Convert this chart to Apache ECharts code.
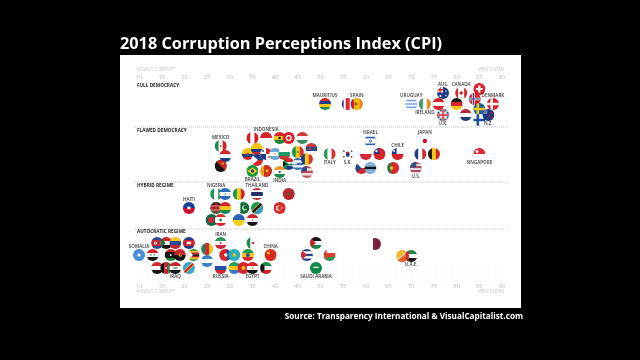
<!DOCTYPE html>
<html>
<head>
<meta charset="utf-8">
<style>html,body{margin:0;background:#000}#chart{width:640px;height:360px}</style>
<script src="https://cdn.jsdelivr.net/npm/echarts@6/dist/echarts.min.js"></script>
</head>
<body>
<div id="chart"></div>
<script>
// score = CPI, lane = vertical slot inside the swarm (0 at top)
var fullNames = ["Mauritius","Costa Rica","Spain","Uruguay","Ireland","Austria","Australia","UK","Germany","Canada","Netherlands","Norway","Switzerland","Sweden","Finland","NZ","Denmark"];
var fullScores = [51,56,58,70,73,76,77,77,80,81,82,84,85,85,85,87,88];
var fullLanes = [22,22,22,22,22,22,11,33,22,11,33,17,7,27,38,33,22];

var flawedNames = ["Mexico","Paraguay","PNG","Ecuador","Peru","Brazil","Colombia","Philippines","Indonesia","Panama","Sri Lanka","Argentina","Ghana","India","Bulgaria","Tunisia","South Africa","Senegal","Greece","Hungary","Romania","Malaysia","Serbia","Italy","S Korea","Czechia","Poland","Israel","Botswana","Taiwan","Portugal","Chile","US","France","Japan","Belgium","Singapore"];
var flawedScores = [28,29,28,34,35,35,36,36,38,38,38,40,41,41,42,43,43,45,45,46,47,47,48,52,56,59,60,61,61,63,66,67,71,72,73,75,85];
var flawedLanes = [64,74,84,72,56,89,67,78,56,72,89,72,56,90,72,56,82,70,82,56,77,90,67,72,72,86,72,59,86,72,86,72,86,72,59,72,72];

var hybridNames = ["Haiti","Bangladesh","Nigeria","Kenya","Lebanon","Honduras","Bolivia","Mali","Ukraine","Pakistan","Sierra","Thailand","Tanzania","Turkey","Morocco"];
var hybridScores = [21,26,27,27,28,29,29,32,32,33,35,36,36,41,43];
var hybridLanes = [126,138,112,126,138,112,126,112,138,126,138,112,126,126,112];

var autoNames = ["Somalia","Syria","N Korea","Yemen","Sudan","Afghanistan","Libya","Venezuela","Iraq","Angola","Cambodia","DRC","Zimbabwe","Cameroon","Nicaragua","Iran","Russia","Laos","Kazakhstan","Gabon","Vietnam","Ethiopia","Algeria","Egypt","Kuwait","China","Cuba","Jordan","Saudi Arabia","Oman","Qatar","Bhutan","UAE"];
var autoScores = [10,13,14,14,16,16,17,18,18,19,21,21,22,25,25,28,28,29,31,31,33,34,35,35,38,39,47,49,49,52,62,68,70];
var autoLanes = [173,173,161,186,161,186,173,161,186,173,161,186,173,167,179,161,186,173,173,186,186,173,161,186,186,173,173,161,186,173,162,174,174];

var regimeNames = ["FULL DEMOCRACY","FLAWED DEMOCRACY","HYBRID REGIME","AUTOCRATIC REGIME"];
var regimeLanes = [4,49,104,150];
var separatorLanes = [45,100,147];
var axisTicks = [10,15,20,25,30,35,40,45,50,55,60,65,70,75,80,85,90];

// printed country labels, and whether they sit above or below the flag
var labelsAbove = {Mauritius:"MAURITIUS",Spain:"SPAIN",Uruguay:"URUGUAY",Australia:"AUS.",Canada:"CANADA",Denmark:"DENMARK",Mexico:"MEXICO",Indonesia:"INDONESIA",Israel:"ISRAEL",Chile:"CHILE",Japan:"JAPAN",Nigeria:"NIGERIA",Thailand:"THAILAND",Haiti:"HAITI",Iran:"IRAN",Somalia:"SOMALIA",China:"CHINA"};
var labelsBelow = {Ireland:"IRELAND",UK:"U.K.",NZ:"N.Z.",Brazil:"BRAZIL",India:"INDIA",Italy:"ITALY","S Korea":"S.K.",US:"U.S.",Singapore:"SINGAPORE",Iraq:"IRAQ",Russia:"RUSSIA",Egypt:"EGYPT","Saudi Arabia":"SAUDI ARABIA",UAE:"U.A.E."};

var R = 6;
var navy = "#1f3c88", red = "#d8232a", green = "#1a8f4c", gold = "#f7c518", sky = "#6aa9dd", blk = "#151515", wht = "#fff";

// flag drawings: h / v = equal stripes, m = marks [kind, colour, ...]
var nordic = function (bg, c1, c2) {
    var m = [["bar", c1, -2.8, -6, 2.6, 12], ["bar", c1, -6, -1.3, 12, 2.6]];
    if (c2) m.push(["bar", c2, -2.1, -6, 1.2, 12], ["bar", c2, -6, -0.6, 12, 1.2]);
    return {h: [bg], m: m};
};
var jack = [["line", wht, -6, -6, 6, 6, 1.6], ["line", wht, -6, 6, 6, -6, 1.6], ["bar", wht, -1.4, -6, 2.8, 12], ["bar", wht, -6, -1.4, 12, 2.8], ["bar", red, -0.7, -6, 1.4, 12], ["bar", red, -6, -0.7, 12, 1.4]];
var flagStyles = {
    "Mauritius": {h: [red, navy, gold, green]},
    "Costa Rica": {v: [navy, wht, red, red, wht, navy]},
    "Spain": {v: ["#c8102e", "#f5b70f", "#f5b70f", "#e8891a"], m: [["dot", "#b5401c", -1, 0, 1.5]]},
    "Uruguay": {h: [wht, "#7aa3d8", wht, "#7aa3d8", wht, "#7aa3d8", wht]},
    "Ireland": {v: ["#3c9a5f", "#fff", "#f08a2c"]},
    "Austria": {h: [red, wht, red]},
    "Australia": {h: [navy], m: [["bar", wht, -6, -6, 6, 5.6], ["bar", red, -6, -4, 6, 1.4], ["bar", red, -3.6, -6, 1.4, 6], ["dot", wht, 2.8, -2, 0.7], ["dot", wht, 3, 2.4, 0.7], ["dot", wht, -2.6, 3, 1]]},
    "UK": {h: ["#2a3f7e"], m: jack},
    "Germany": {h: [blk, red, gold]},
    "Canada": {v: [red, wht, wht, red], m: [["dot", red, 0, 0, 1.8]]},
    "Netherlands": {h: ["#b5283a", wht, "#1f3c7a"]},
    "Norway": nordic(red, wht, navy),
    "Switzerland": {h: [red], m: [["bar", wht, -1.1, -3.4, 2.2, 6.8], ["bar", wht, -3.4, -1.1, 6.8, 2.2]]},
    "Sweden": nordic("#1560a8", gold),
    "Finland": nordic(wht, "#1c4f9c"),
    "NZ": {h: ["#1b3a7a"], m: [["dot", red, 2.6, -2.4, 0.9], ["dot", red, 1.2, 1, 0.9], ["dot", red, 3.6, 2.6, 0.9], ["bar", "#6a7db0", -6, -6, 5, 5]]},
    "Denmark": {h: [red], m: [["bar", wht, -2.4, -6, 2.4, 12], ["bar", wht, -6, -1.2, 12, 2.4]]},
    "Mexico": {v: [green, wht, red], m: [["dot", "#9a7b3c", 0, 0, 1]]},
    "Paraguay": {h: [red, wht, navy]},
    "PNG": {h: [blk], m: [["poly", "#c9241f", [[-6, -6], [6, -6], [6, 6]]], ["dot", gold, 2, -2.4, 1.1]]},
    "Ecuador": {h: [gold, gold, navy, red], m: [["dot", "#7a5a32", 0, 0, 1.5]]},
    "Peru": {v: ["#d01c1f", wht, "#d01c1f"]},
    "Brazil": {h: ["#169b3a"], m: [["poly", gold, [[-5, 0], [0, -3.6], [5, 0], [0, 3.6]]], ["dot", navy, 0, 0, 1.7]]},
    "Colombia": {h: [gold, gold, navy, red]},
    "Philippines": {h: [navy, red], m: [["poly", wht, [[-6, -6], [1, 0], [-6, 6]]]]},
    "Indonesia": {h: [red, wht]},
    "Panama": {h: [wht], m: [["bar", red, 0, -6, 6, 6], ["bar", navy, -6, 0, 6, 6], ["dot", navy, -3, -3, 0.9], ["dot", red, 3, 3, 0.9]]},
    "Sri Lanka": {v: ["#f0a21f", "#c8301f", "#c8301f"], m: [["dot", gold, 1, 0, 1.4]]},
    "Argentina": {h: [sky, wht, sky], m: [["dot", gold, 0, 0, 1]]},
    "Ghana": {h: [red, gold, "#1a8a46"], m: [["dot", blk, 0, 0, 1.2]]},
    "India": {h: ["#f59a33", wht, "#1a8a46"], m: [["dot", navy, 0, 0, 1.1]]},
    "Bulgaria": {h: [wht, "#1a9a6a", "#cf3a2a"]},
    "Tunisia": {h: ["#d8232a"], m: [["dot", wht, 0, 0, 3], ["dot", red, 0, 0, 1.7]]},
    "South Africa": {h: [red, wht, navy], m: [["poly", "#178a4c", [[-6, -6], [0, 0], [6, -1.3], [6, 1.3], [0, 1.4], [-6, 6]]], ["poly", blk, [[-6, -3], [-2, 0], [-6, 3]]]]},
    "Senegal": {v: ["#1a9a4c", gold, "#d8332a"], m: [["dot", "#1a8f4c", 0, 0, 0.9]]},
    "Greece": {h: ["#2f6fb5", wht, "#2f6fb5", wht, "#2f6fb5"], m: [["bar", wht, -6, -1, 5, 1.2]]},
    "Hungary": {h: ["#cf3b36", wht, "#3d8d5c"]},
    "Romania": {v: ["#1f3c88", gold, "#d8332a"]},
    "Malaysia": {h: ["#c8505a", "#e8dfe0", "#c8505a", "#e8dfe0", "#c8505a"], m: [["bar", "#2f4a88", -6, -6, 6, 5.6]]},
    "Serbia": {h: ["#c6363c", "#2f4a88", "#f3f3f3"], m: [["dot", "#b5403f", -1.5, 0, 1.2]]},
    "Italy": {v: ["#2e9a5a", wht, "#d8332a"]},
    "S Korea": {h: [wht], m: [["dot", "#c8283c", 0, -0.7, 1.9], ["dot", "#1f3c88", 0, 0.9, 1.9], ["bar", blk, -4.6, -3.6, 1.4, 1.4], ["bar", blk, 3.2, -3.6, 1.4, 1.4], ["bar", blk, -4.6, 2.2, 1.4, 1.4], ["bar", blk, 3.2, 2.2, 1.4, 1.4]]},
    "Czechia": {h: [wht, "#d8232a"], m: [["poly", "#1f4a8a", [[-6, -6], [0, 0], [-6, 6]]]]},
    "Poland": {h: [wht, "#d8283a"]},
    "Israel": {h: [wht, "#2a62b0", wht, wht, wht, "#2a62b0", wht], m: [["dot", "#2a62b0", 0, 0, 1.5], ["dot", wht, 0, 0, 0.8]]},
    "Botswana": {h: ["#79aedb", "#79aedb", blk, "#79aedb", "#79aedb"]},
    "Taiwan": {h: ["#d8232a"], m: [["bar", "#1f3c88", -6, -6, 5.6, 6], ["dot", wht, -3, -3, 1.2]]},
    "Portugal": {v: ["#1f7a3c", "#d8232a", "#d8232a"], m: [["dot", gold, -1.5, 0, 1.7]]},
    "Chile": {h: [wht, "#d8232a"], m: [["bar", "#1f3c88", -6, -6, 5, 6], ["dot", wht, -3.4, -3, 0.9]]},
    "US": {h: ["#b84a5a", "#ddd", "#b84a5a", "#ddd", "#b84a5a", "#ddd"], m: [["bar", "#37508f", -6, -6, 6.4, 5.6]]},
    "France": {v: ["#1f3c88", wht, "#d8232a"]},
    "Japan": {h: [wht], m: [["dot", "#c8102e", 0, 0, 2.2]]},
    "Belgium": {v: [blk, "#f5c518", "#d8232a"]},
    "Singapore": {h: ["#dd2a35", wht], m: [["dot", wht, -2.4, -2.6, 1.5]]},
    "Haiti": {h: ["#1a3f9a", "#c8102e"], m: [["bar", wht, -1.6, -1.2, 3.2, 2.4]]},
    "Bangladesh": {h: ["#0f6b47"], m: [["dot", "#d0283a", -0.6, 0, 3]]},
    "Nigeria": {v: ["#1a9a5c", wht, "#1a9a5c"]},
    "Kenya": {h: [blk, "#a8262a", "#a8262a", "#1a7a3c"], m: [["poly", "#a8262a", [[-1.6, -5], [1.6, -5], [1.6, 5], [-1.6, 5]]], ["bar", wht, -6, -2.3, 12, 0.5], ["bar", wht, -6, 1.8, 12, 0.5]]},
    "Lebanon": {h: ["#d8232a", wht, wht, "#d8232a"], m: [["dot", "#1a8a4c", 0, 0, 1.4]]},
    "Honduras": {h: ["#2a6ac0", wht, "#2a6ac0"], m: [["dot", "#2a6ac0", 0, 0, 0.8]]},
    "Bolivia": {h: ["#d8232a", gold, "#1a8a4c"]},
    "Mali": {v: ["#1a9a4c", "#f0d020", "#d8232a"]},
    "Ukraine": {h: ["#2a62b8", "#f5d21a"]},
    "Pakistan": {v: [wht, "#0d6b35", "#0d6b35", "#0d6b35"], m: [["dot", wht, 1.2, 0, 2.4], ["dot", "#0d6b35", 2, -0.4, 2]]},
    "Sierra": {h: ["#c8232a", wht, blk], m: [["dot", "#1a8a4c", 0, 0, 0.8]]},
    "Thailand": {h: ["#c8282e", wht, "#23306f", "#23306f", wht, "#c8282e"]},
    "Tanzania": {h: ["#1a9a4c"], m: [["poly", "#2aa0d0", [[6, -6], [6, 6], [-6, 6]]], ["line", gold, -6, 6, 6, -6, 3.6], ["line", blk, -6, 6, 6, -6, 2.4]]},
    "Turkey": {h: ["#dd2a2a"], m: [["dot", wht, -1, 0, 2.6], ["dot", "#dd2a2a", -0.2, 0, 2.1], ["dot", wht, 2.2, 0, 0.7]]},
    "Morocco": {h: ["#b5272a"], m: [["dot", "#2a6a3c", 0, 0, 1.2]]},
    "Somalia": {h: ["#4a90d8"], m: [["dot", wht, 0, 0, 1.5]]},
    "Syria": {h: ["#d8232a", wht, blk], m: [["dot", "#1a8a4c", -1.6, 0, 0.8], ["dot", "#1a8a4c", 1.6, 0, 0.8]]},
    "N Korea": {h: ["#2a4a9a", "#c8283c", "#c8283c", "#2a4a9a"], m: [["dot", wht, -1.6, 0, 1.5], ["dot", "#c8283c", -1.6, 0, 0.7]]},
    "Yemen": {h: ["#d8232a", wht, blk]},
    "Sudan": {h: ["#c8232a", wht, blk], m: [["poly", "#1a7a3c", [[-6, -6], [-0.5, 0], [-6, 6]]]]},
    "Afghanistan": {v: [blk, "#c8232a", "#1a7a3c"], m: [["dot", wht, 0, 0, 0.9]]},
    "Libya": {h: ["#c8232a", blk, blk, "#1a8a3c"], m: [["dot", wht, 0, 0, 1]]},
    "Venezuela": {h: [gold, "#2a4a9a", "#c8232a"]},
    "Iraq": {h: ["#c8232a", wht, blk], m: [["bar", "#1a7a3c", -2.4, -0.6, 4.8, 1.2]]},
    "Angola": {h: ["#c8232a", blk], m: [["dot", gold, 0.4, 0, 1.8], ["dot", "#b03020", 0.8, -0.3, 1.2]]},
    "Cambodia": {h: ["#1f3c88", "#c8232a", "#c8232a", "#1f3c88"], m: [["bar", wht, -2.2, -1.2, 4.4, 2.4]]},
    "DRC": {h: ["#35a5dc"], m: [["line", gold, -6, 6, 6, -6, 3.4], ["line", "#c8232a", -6, 6, 6, -6, 2]]},
    "Zimbabwe": {h: ["#1a8a4c", gold, "#c8232a", blk, "#c8232a", gold, "#1a8a4c"], m: [["poly", wht, [[-6, -6], [-0.5, 0], [-6, 6]]]]},
    "Cameroon": {v: ["#1a8a4c", "#d8232a", gold]},
    "Nicaragua": {h: ["#3a82c8", wht, "#3a82c8"]},
    "Iran": {h: ["#2a9a5a", wht, "#d0283a"], m: [["dot", "#d0283a", 0, 0, 1]]},
    "Russia": {h: [wht, "#2a4fa8", "#d8232a"]},
    "Laos": {h: ["#d8232a"], m: [["bar", "#2a4a9a", 1.6, -6, 5, 12], ["dot", wht, 0.6, 0, 1.7]]},
    "Kazakhstan": {h: ["#27b0bd"], m: [["dot", gold, 0, 0, 1.7]]},
    "Gabon": {h: ["#2aa05a", gold, "#3a78c8"]},
    "Vietnam": {h: ["#d8232a"], m: [["dot", gold, 0, 0, 2]]},
    "Ethiopia": {h: ["#1a9a4c", gold, "#d8232a"], m: [["dot", "#2a4fa8", 0, 0, 2]]},
    "Algeria": {v: ["#2a8a4c", wht, wht], m: [["dot", "#c8283c", 0.5, 0, 1.2]]},
    "Egypt": {h: ["#d8232a", wht, blk], m: [["dot", "#b09030", 0, 0, 0.9]]},
    "Kuwait": {h: ["#1a8a4c", wht, "#c8232a"], m: [["poly", blk, [[-6, -6], [-1.5, -2], [-1.5, 2], [-6, 6]]]]},
    "China": {h: ["#dd2a1f"], m: [["dot", gold, -2.2, -2, 1.4]]},
    "Cuba": {h: ["#2a3f8a", wht, "#2a3f8a", wht, "#2a3f8a"], m: [["poly", "#d0283a", [[-6, -6], [0, 0], [-6, 6]]]]},
    "Jordan": {h: [blk, wht, "#1a8a4c"], m: [["poly", "#c8232a", [[-6, -6], [0, 0], [-6, 6]]]]},
    "Saudi Arabia": {h: ["#0f8a4a"], m: [["bar", wht, -2.6, -1.2, 5.2, 1.2]]},
    "Oman": {h: [wht, "#d8402a", "#2a9a5a"], m: [["bar", "#d8402a", -6, -6, 3, 12]]},
    "Qatar": {v: [wht, "#7a1f40", "#7a1f40"]},
    "Bhutan": {h: ["#f5b82a"], m: [["poly", "#e8602a", [[6, -6], [6, 6], [-6, 6]]], ["line", wht, -4, 3, 4, -3, 1]]},
    "UAE": {h: ["#1a8a4c", wht, blk], m: [["bar", "#d8232a", -6, -6, 3.6, 12]]}
};

function mark(m) {
    var s = {fill: m[1]};
    if (m[0] == "dot") return {type: "circle", shape: {cx: m[2], cy: m[3], r: m[4]}, style: s};
    if (m[0] == "bar") return {type: "rect", shape: {x: m[2], y: m[3], width: m[4], height: m[5]}, style: s};
    if (m[0] == "poly") return {type: "polygon", shape: {points: m[2]}, style: s};
    return {type: "line", shape: {x1: m[2], y1: m[3], x2: m[4], y2: m[5]}, style: {stroke: m[1], lineWidth: m[6]}};
}

function flagParts(name) {
    var f = flagStyles[name], parts = [];
    var bands = f.h || f.v, w = 12 / bands.length;
    for (var i = 0; i < bands.length; i++) {
        parts.push({
            type: "rect",
            shape: f.h ? {x: -6, y: -6 + i * w, width: 12, height: w + 0.2} : {x: -6 + i * w, y: -6, width: w + 0.2, height: 12},
            style: {fill: bands[i]}
        });
    }
    (f.m || []).forEach(function (m) { parts.push(mark(m)); });
    return parts;
}

var countries = fullNames.concat(flawedNames, hybridNames, autoNames);
var scores = fullScores.concat(flawedScores, hybridScores, autoScores);
var lanes = fullLanes.concat(flawedLanes, hybridLanes, autoLanes);
var flagData = scores.map(function (s, i) { return [s, lanes[i]]; });

function renderFlag(params, api) {
    var p = api.coord([api.value(0), api.value(1)]);
    var name = countries[params.dataIndex];
    var kids = [{
        type: "group",
        x: p[0], y: p[1],
        clipPath: {type: "circle", shape: {cx: 0, cy: 0, r: R}},
        children: flagParts(name)
    }, {
        type: "circle",
        shape: {cx: p[0], cy: p[1], r: R},
        style: {fill: "none", stroke: "rgba(0,0,0,0.12)", lineWidth: 0.5}
    }];
    var above = labelsAbove[name], below = labelsBelow[name];
    if (above || below) {
        kids.push({
            type: "text",
            x: p[0], y: p[1] + (above ? -8.6 : 8.6),
            style: {text: above || below, font: "600 4.6px 'Open Sans'", fill: "#333", align: "center", verticalAlign: "middle"}
        });
    }
    return {type: "group", children: kids};
}

function renderSeparator(params, api) {
    var a = api.coord([9.1, api.value(0)]), b = api.coord([91.5, api.value(0)]);
    return {
        type: "line",
        shape: {x1: a[0], y1: a[1], x2: b[0], y2: b[1]},
        style: {stroke: "#999", lineWidth: 0.6, lineDash: [1, 1]}
    };
}

function panelText(x, y, text, font, fill, align) {
    return {type: "text", x: x, y: y, style: {text: text, font: font, fill: fill, align: align || "left", verticalAlign: "middle"}};
}

var graphics = [
    {type: "rect", shape: {x: 120, y: 55, width: 401, height: 253}, style: {fill: "#fff"}, z: -10},
    panelText(120, 44, "2018 Corruption Perceptions Index (CPI)", "bold 16.3px 'Open Sans'", "#fff"),
    panelText(523, 317, "Source: Transparency International & VisualCapitalist.com", "bold 8.2px 'Open Sans'", "#fff", "right"),
    panelText(137, 70, "HIGHLY CORRUPT", "4.6px 'Open Sans'", "#c4c4c4"),
    panelText(504, 70, "VERY CLEAN", "4.6px 'Open Sans'", "#c4c4c4", "right"),
    panelText(137, 292, "HIGHLY CORRUPT", "4.6px 'Open Sans'", "#c4c4c4"),
    panelText(504, 292, "VERY CLEAN", "4.6px 'Open Sans'", "#c4c4c4", "right")
];
regimeNames.forEach(function (n, i) {
    graphics.push(panelText(137, 82 + regimeLanes[i], n, "bold 4.7px 'Open Sans'", "#222"));
});

var myChart = echarts.init(document.getElementById("chart"), null, {renderer: "canvas"});

var option = {
    backgroundColor: "#000",
    animation: false,
    graphic: {elements: graphics},
    grid: {left: 139, right: 138, top: 82, height: 200},
    xAxis: [{
        type: "value", position: "top", min: 10, max: 90, interval: 5,
        axisLine: {show: false}, axisTick: {show: false}, splitLine: {show: false},
        axisLabel: {margin: 2, fontSize: 5.6, color: "#b8b8b8", fontFamily: "Open Sans",
            formatter: function (v) { return axisTicks.indexOf(v) >= 0 ? v : ""; }}
    }, {
        type: "value", position: "bottom", min: 10, max: 90, interval: 5,
        axisLine: {show: false}, splitLine: {show: false},
        axisTick: {show: true, inside: true, length: 19, lineStyle: {color: "#fafafa", width: 0.6}},
        minorTick: {show: true, splitNumber: 10, length: 19, lineStyle: {color: "#fafafa", width: 0.6}},
        axisLabel: {margin: 1.5, fontSize: 5.6, color: "#b8b8b8", fontFamily: "Open Sans",
            formatter: function (v) { return axisTicks.indexOf(v) >= 0 ? v : ""; }}
    }],
    yAxis: {type: "value", inverse: true, min: 0, max: 200, show: false},
    series: [{
        type: "custom",
        renderItem: renderSeparator,
        data: separatorLanes,
        encode: {y: 0},
        silent: true,
        z: 1
    }, {
        type: "custom",
        renderItem: renderFlag,
        data: flagData,
        encode: {x: 0, y: 1},
        silent: true,
        z: 2
    }]
};

myChart.setOption(option);
</script>
</body>
</html>
